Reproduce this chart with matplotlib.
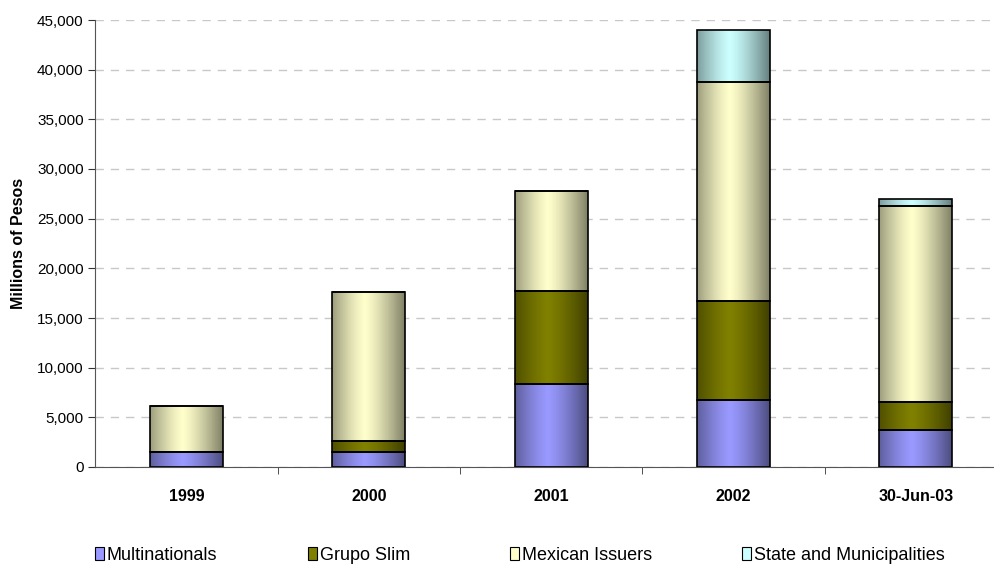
import matplotlib.pyplot as plt
import matplotlib.patches as mpatches
import numpy as np
from matplotlib.colors import to_rgb
from matplotlib.ticker import FuncFormatter

plt.rcParams['font.family'] = ['Liberation Sans', 'DejaVu Sans']

categories = ['1999', '2000', '2001', '2002', '30-Jun-03']
multinationals = [1550, 1550, 8400, 6700, 3750]
grupo_slim = [0, 1050, 9300, 10000, 2800]
mexican_issuers = [4600, 15000, 10100, 22100, 19700]
state_municipalities = [0, 0, 0, 5200, 700]

series = [
    ('Multinationals', multinationals, '#9999FF'),
    ('Grupo Slim', grupo_slim, '#808000'),
    ('Mexican Issuers', mexican_issuers, '#FFFFCC'),
    ('State and Municipalities', state_municipalities, '#CCFFFF'),
]


def gradient_image(color):
    # horizontal shading: dark edges, bright band a little left of centre
    t = np.linspace(0, 1, 200)
    f = 1 - np.clip(np.abs(t - 0.45) / 0.55, 0, 1) ** 1.3
    f = 0.5 + 0.5 * f
    rgb = np.array(to_rgb(color))
    img = f[None, :, None] * rgb[None, None, :]
    return np.clip(img, 0, 1)


fig = plt.figure(figsize=(9.95, 5.65), dpi=100)
W, H = 995, 565
ax = fig.add_axes([95.5 / W, 98 / H, 911.5 / W, 447 / H])

x = np.arange(len(categories))
bottom = np.zeros(len(categories))
handles = []
for name, vals, color in series:
    vals = np.array(vals, dtype=float)
    bars = ax.bar(x, vals, width=0.4, bottom=bottom, facecolor='none',
                  edgecolor='black', linewidth=1.2, zorder=3)
    img = gradient_image(color)
    for b, v in zip(bars, vals):
        if v <= 0:
            continue
        ax.imshow(img, extent=[b.get_x(), b.get_x() + b.get_width(),
                               b.get_y(), b.get_y() + b.get_height()],
                  aspect='auto', zorder=2, interpolation='bilinear')
    bottom += vals
    handles.append(mpatches.Patch(facecolor=color, edgecolor='black',
                                  linewidth=0.8, label=name))

ax.set_xlim(-0.5, 4.5)
ax.set_ylim(0, 45000)
ax.set_yticks(np.arange(0, 45001, 5000))
ax.yaxis.set_major_formatter(FuncFormatter(lambda v, p: f'{int(v):,}'))
ax.set_xticks(x)
ax.set_xticklabels(categories, fontweight='bold', fontsize=11.5)
ax.set_xticks(np.arange(0.5, 4.5, 1), minor=True)
ax.tick_params(axis='x', which='major', length=0, pad=16)
ax.tick_params(axis='x', which='minor', length=5, direction='out', color='#333333')
ax.tick_params(axis='y', length=5, direction='out', labelsize=11, color='#333333')
ax.set_ylabel('Millions of Pesos', fontweight='bold', fontsize=11.5, labelpad=8)

ax.grid(axis='y', linestyle=(0, (6, 5)), color='#C8C8C8', linewidth=1, zorder=0)
ax.set_axisbelow(True)
for s in ['top', 'right']:
    ax.spines[s].set_visible(False)
ax.spines['left'].set_color('#555555')
ax.spines['bottom'].set_color('#555555')

legend_x = [95, 308, 510, 742]
for h, lx in zip(handles, legend_x):
    fig.legend(handles=[h], loc='center left', bbox_to_anchor=(lx / W, 1 - 555 / H),
               frameon=False, fontsize=13, handlelength=0.5, handleheight=0.75,
               handletextpad=0.15, borderpad=0, borderaxespad=0)

fig.savefig('out.png', dpi=100)
